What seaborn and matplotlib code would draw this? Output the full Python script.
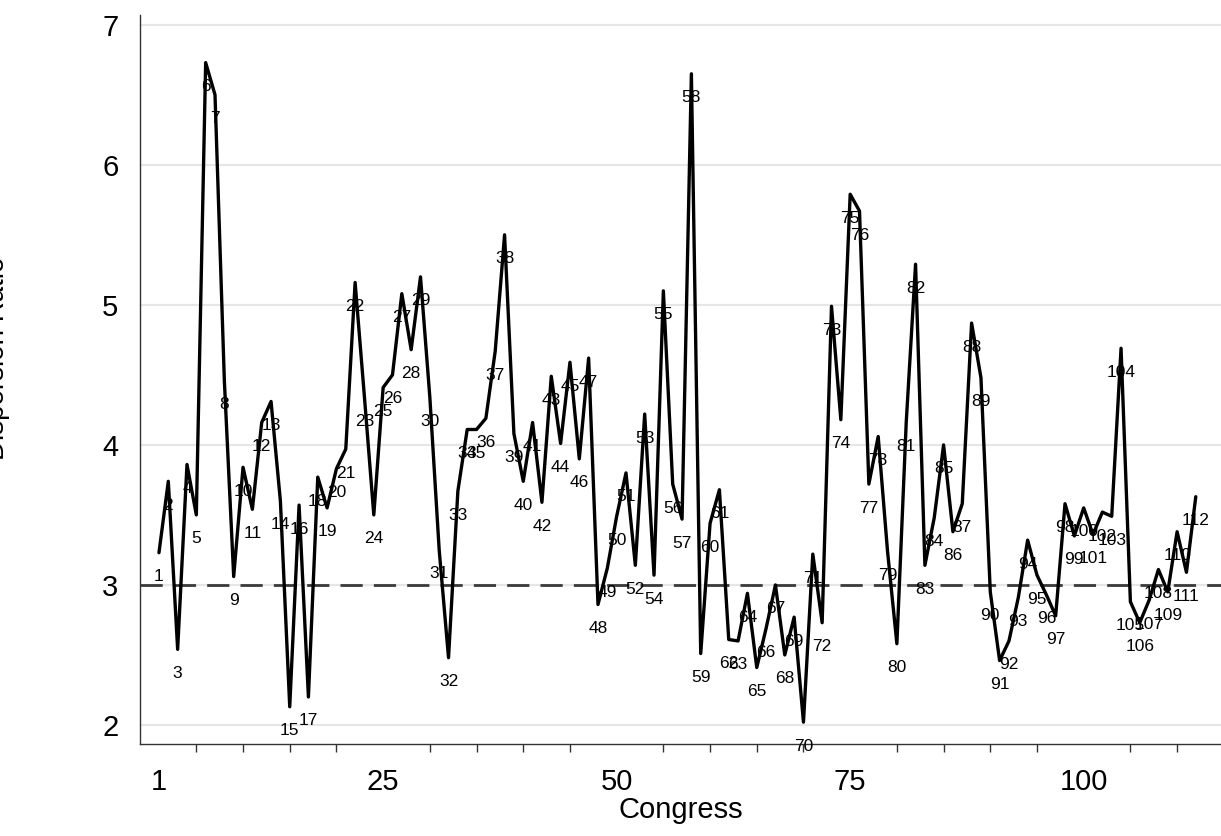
import matplotlib
matplotlib.use("Agg")
import matplotlib.pyplot as plt
import seaborn as sns
from matplotlib.ticker import FixedLocator

# dispersion value for each Congress (1..112)
congress = list(range(1, 113))
dispersion = [
    3.23, 3.74, 2.54, 3.86, 3.50, 6.73, 6.50, 4.46, 3.06, 3.84,
    3.54, 4.16, 4.31, 3.60, 2.13, 3.57, 2.20, 3.77, 3.55, 3.83,
    3.97, 5.16, 4.34, 3.50, 4.41, 4.50, 5.08, 4.68, 5.20, 4.34,
    3.25, 2.48, 3.67, 4.11, 4.11, 4.19, 4.67, 5.50, 4.08, 3.74,
    4.16, 3.59, 4.49, 4.01, 4.59, 3.90, 4.62, 2.86, 3.12, 3.49,
    3.80, 3.14, 4.22, 3.07, 5.10, 3.72, 3.47, 6.65, 2.51, 3.44,
    3.68, 2.61, 2.60, 2.94, 2.41, 2.69, 3.00, 2.50, 2.77, 2.02,
    3.22, 2.73, 4.99, 4.18, 5.79, 5.67, 3.72, 4.06, 3.24, 2.58,
    4.16, 5.29, 3.14, 3.48, 4.00, 3.38, 3.58, 4.87, 4.48, 2.95,
    2.46, 2.60, 2.91, 3.32, 3.07, 2.93, 2.78, 3.58, 3.35, 3.55,
    3.36, 3.52, 3.49, 4.69, 2.88, 2.73, 2.89, 3.11, 2.95, 3.38,
    3.09, 3.63,
]
x_major = [1, 25, 50, 75, 100]
x_minor = [5, 10, 15, 20, 30, 35, 40, 45, 55, 60, 65, 70, 80, 85, 90, 95, 105, 110]
y_ticks = [2, 3, 4, 5, 6, 7]
reference_line = 3

sns.set_style("white")
plt.rcParams["font.family"] = ["Liberation Sans", "DejaVu Sans"]
plt.rcParams["text.color"] = "black"
plt.rcParams["axes.labelcolor"] = "black"
plt.rcParams["xtick.color"] = "black"
plt.rcParams["ytick.color"] = "black"

fig = plt.figure(figsize=(12.21, 8.36), dpi=100)
ax = fig.add_axes([140 / 1221, 92 / 836, 1 - 140 / 1221, (744 - 15) / 836])

for yv in y_ticks:
    ax.axhline(yv, color="#e6e6e6", lw=1.5, zorder=0)
ax.axhline(reference_line, color="#3a3a3a", lw=2, ls=(0, (8, 4)), zorder=1)

sns.lineplot(x=congress, y=dispersion, color="black", lw=2.4, ax=ax, zorder=2)

for c, v in zip(congress, dispersion):
    ax.annotate(str(c), (c, v), xytext=(0, -24), textcoords="offset pixels",
                ha="center", va="center", fontsize=12.5, color="black",
                zorder=3, annotation_clip=False)

ax.set_xlim(-1.03, 114.7)
ax.set_ylim(1.864, 7.07)

ax.xaxis.set_major_locator(FixedLocator(x_major))
ax.xaxis.set_minor_locator(FixedLocator(x_minor))
ax.set_yticks(y_ticks)
ax.tick_params(axis="both", which="major", labelsize=21, length=9.5, width=1,
               color="#333333", labelcolor="black", direction="out")
ax.tick_params(axis="x", which="major", pad=8)
ax.tick_params(axis="y", which="major", pad=6)
ax.tick_params(axis="x", which="minor", length=6, width=1, color="#333333", bottom=True)
ax.set_xlabel("Congress", fontsize=21, labelpad=0, color="black")
ax.set_ylabel("")

for side in ["top", "right"]:
    ax.spines[side].set_visible(False)
for side in ["left", "bottom"]:
    ax.spines[side].set_color("#333333")
    ax.spines[side].set_linewidth(1)

# y title sits mostly outside the canvas in the original
fig.text(10.5 / 1221, 1 - 358 / 836, "Dispersion Ratio", rotation=90,
         ha="right", va="center", fontsize=20, color="black")

fig.savefig("out.png", dpi=100)
